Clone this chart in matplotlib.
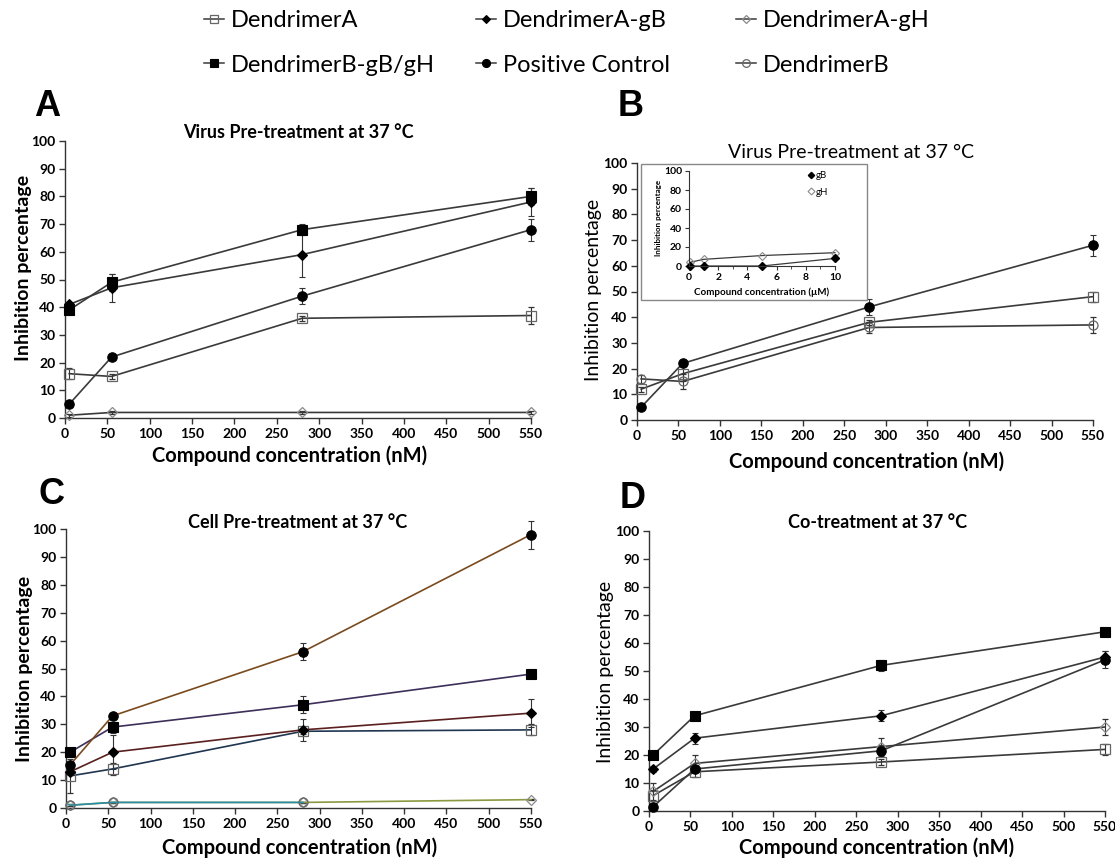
import matplotlib
matplotlib.use('Agg')
import matplotlib.pyplot as plt
from matplotlib.lines import Line2D
from matplotlib.patches import Rectangle
from matplotlib.ticker import MultipleLocator

plt.rcParams['font.family'] = ['Lato', 'DejaVu Sans']

# ---------------- data ----------------
conc_nM = [5, 55, 280, 550]
xticks_nM = [0, 50, 100, 150, 200, 250, 300, 350, 400, 450, 500, 550]
yticks_pct = [0, 10, 20, 30, 40, 50, 60, 70, 80, 90, 100]

# Panel A  (Virus pre-treatment)
a_dendA = [16, 15, 36, 37];        a_dendA_err = [2, 1, 1, 3]
a_dendA_gB = [41, 47, 59, 78];     a_dendA_gB_err = [1, 5, 8, 5]
a_dendA_gH = [1, 2, 2, 2];         a_dendA_gH_err = [0.5, 0.5, 0.5, 0.5]
a_dendB_gBgH = [39, 49, 68, 80];   a_dendB_gBgH_err = [1, 3, 2, 3]
a_pos = [5, 22, 44, 68];           a_pos_err = [1, 1, 3, 4]

# Panel B  (Virus pre-treatment)
b_pos = [5, 22, 44, 68];           b_pos_err = [0.5, 1, 3, 4]
b_dendA = [12, 18, 38, 48];        b_dendA_err = [1, 3, 1, 2]
b_dendB = [16, 15, 36, 37];        b_dendB_err = [1.5, 3, 2, 3]

# Panel B inset
inset_conc_uM = [0.1, 1, 5, 10]
inset_gB = [0, 0, 0, 8]
inset_gH = [4, 7, 11, 14]

# Panel C  (Cell pre-treatment)
c_pos = [15.5, 33, 56, 98];        c_pos_err = [1, 1, 3, 5]
c_dendB_gBgH = [20, 29, 37, 48];   c_dendB_gBgH_err = [1.5, 2, 3, 1.5]
c_dendA_gB = [13, 20, 28, 34];     c_dendA_gB_err = [1, 6, 4, 5]
c_dendA = [11.5, 14, 27.5, 28];    c_dendA_err = [6, 2, 1, 2]
c_dendA_gH = [1, 2, 2, 3];         c_dendA_gH_err = [0.3, 0.3, 0.3, 0.3]
c_dendB = [1, 2, 2];               c_dendB_err = [0.3, 0.3, 0.3]

# Panel D  (Co-treatment)
d_dendB_gBgH = [20, 34, 52, 64];   d_dendB_gBgH_err = [1.5, 1, 2, 1.5]
d_dendA_gB = [15, 26, 34, 55];     d_dendA_gB_err = [1, 2, 2, 2]
d_pos = [1.5, 15, 21.5, 54];       d_pos_err = [1, 1, 2, 3]
d_dendA_gH = [7, 17, 23, 30];      d_dendA_gH_err = [3, 3, 3, 3]
d_dendA = [5.5, 14, 17.5, 22];     d_dendA_err = [2, 2, 1, 2]

legend_names = ['DendrimerA', 'DendrimerA-gB', 'DendrimerA-gH',
                'DendrimerB-gB/gH', 'Positive Control', 'DendrimerB']

# ---------------- styles ----------------
LC = '#3a3a3a'
styles = {
    'DendrimerA':       dict(marker='s', ms=6.5, mfc='none', mec='#666666', mew=0.9),
    'DendrimerA-gB':    dict(marker='D', ms=4.8, mfc='black', mec='black', mew=0.8),
    'DendrimerA-gH':    dict(marker='D', ms=4.8, mfc='none', mec='#8a8a8a', mew=0.9),
    'DendrimerB-gB/gH': dict(marker='s', ms=7.2, mfc='black', mec='black', mew=0.8),
    'Positive Control': dict(marker='o', ms=6.8, mfc='black', mec='black', mew=0.8),
    'DendrimerB':       dict(marker='o', ms=6.5, mfc='none', mec='#666666', mew=0.9),
}

W, H = 1115, 860
fig = plt.figure(figsize=(W / 100, H / 100), dpi=100)


def fx(px):
    return px / W


def fy(py):
    return 1 - py / H


def add_axes(l, t, r, b):
    return fig.add_axes([fx(l), fy(b), fx(r - l), (b - t) / H])


def draw(ax, x, y, err, name, color=LC, ecolor='#333333', z=3):
    st = styles[name]
    ax.errorbar(x, y, yerr=err, fmt='-', color=color, lw=1.2,
                ecolor=ecolor, elinewidth=0.8, capsize=2.2, capthick=0.8,
                clip_on=False, zorder=z, **st)


def style_axes(ax, labelsize=10):
    ax.set_xlim(0, 550)
    ax.set_ylim(0, 100)
    ax.set_xticks(xticks_nM)
    ax.set_yticks(yticks_pct)
    for s in ['top', 'right']:
        ax.spines[s].set_visible(False)
    for s in ['left', 'bottom']:
        ax.spines[s].set_color('#333333')
        ax.spines[s].set_linewidth(1.0)
    ax.tick_params(direction='out', length=4, width=1, color='#333333',
                   labelsize=labelsize, pad=3)
    for lab in ax.get_xticklabels() + ax.get_yticklabels():
        lab.set_fontweight('bold')
    ax.patch.set_alpha(0)


# ---------------- Panel A ----------------
axA = add_axes(65, 141, 531, 418)
style_axes(axA)
draw(axA, conc_nM, a_dendA_gH, a_dendA_gH_err, 'DendrimerA-gH')
draw(axA, conc_nM, a_dendA, a_dendA_err, 'DendrimerA')
draw(axA, conc_nM, a_pos, a_pos_err, 'Positive Control')
draw(axA, conc_nM, a_dendA_gB, a_dendA_gB_err, 'DendrimerA-gB')
draw(axA, conc_nM, a_dendB_gBgH, a_dendB_gBgH_err, 'DendrimerB-gB/gH')

# ---------------- Panel B ----------------
axB = add_axes(637, 163, 1093, 420)
style_axes(axB)
draw(axB, conc_nM, b_dendB, b_dendB_err, 'DendrimerB')
draw(axB, conc_nM, b_dendA, b_dendA_err, 'DendrimerA')
draw(axB, conc_nM, b_pos, b_pos_err, 'Positive Control')

# inset box
fig.patches.append(Rectangle((fx(641), fy(300)), fx(867 - 641), (300 - 164) / H,
                             transform=fig.transFigure, facecolor='white',
                             edgecolor='#888888', lw=1.0, zorder=5))
axI = add_axes(689, 171, 835, 266)
axI.set_zorder(6)
axI.set_xlim(0, 10)
axI.set_ylim(0, 100)
axI.set_xticks([0, 2, 4, 6, 8, 10])
axI.set_yticks([0, 20, 40, 60, 80, 100])
axI.xaxis.set_minor_locator(MultipleLocator(1))
for s in ['top', 'right']:
    axI.spines[s].set_visible(False)
for s in ['left', 'bottom']:
    axI.spines[s].set_color('#333333')
    axI.spines[s].set_linewidth(0.8)
axI.tick_params(which='major', direction='out', length=3, width=0.8,
                labelsize=7.5, pad=2, color='#333333')
axI.tick_params(which='minor', direction='out', length=2, width=0.6, color='#333333')
for lab in axI.get_xticklabels() + axI.get_yticklabels():
    lab.set_fontweight('bold')
axI.patch.set_alpha(0)
axI.plot(inset_conc_uM, inset_gH, '-', color=LC, lw=0.9, marker='D', ms=4.2,
         mfc='none', mec='#8a8a8a', mew=0.8, clip_on=False, label='gH')
axI.plot(inset_conc_uM, inset_gB, '-', color=LC, lw=0.9, marker='D', ms=3.8,
         mfc='black', mec='black', clip_on=False, label='gB')
h, l = axI.get_legend_handles_labels()
ih = [Line2D([0], [0], lw=0, marker='D', ms=3.2, mfc='black', mec='black'),
      Line2D([0], [0], lw=0, marker='D', ms=3.5, mfc='none', mec='#8a8a8a', mew=0.8)]
axI.legend(ih, l[::-1], loc='upper left', bbox_to_anchor=(0.82, 1.0),
           frameon=False, fontsize=7, handlelength=0.5, handletextpad=0.25,
           labelspacing=0.8, borderaxespad=0, borderpad=0)
fig.text(fx(762), fy(292), 'Compound concentration (\u00b5M)', fontsize=7,
         fontweight='bold', ha='center', va='center', zorder=7)
fig.text(fx(658), fy(218), 'Inhibition percentage', fontsize=5.8,
         fontweight='bold', rotation=90, ha='center', va='center', zorder=7)

# ---------------- Panel C ----------------
axC = add_axes(66, 529, 531, 808)
style_axes(axC)
draw(axC, conc_nM, c_dendA_gH, c_dendA_gH_err, 'DendrimerA-gH', color='#8a9a40')
draw(axC, conc_nM[:3], c_dendB, c_dendB_err, 'DendrimerB', color='#2a8ea6')
axC.lines[-1].set_markerfacecolor('#2a8ea6')
axC.lines[-1].set_markeredgecolor('#2a8ea6')
draw(axC, conc_nM, c_dendA, c_dendA_err, 'DendrimerA', color='#1f3550')
draw(axC, conc_nM, c_dendA_gB, c_dendA_gB_err, 'DendrimerA-gB', color='#5a1f1f')
draw(axC, conc_nM, c_dendB_gBgH, c_dendB_gBgH_err, 'DendrimerB-gB/gH', color='#3d2f5a')
draw(axC, conc_nM, c_pos, c_pos_err, 'Positive Control', color='#7a4a1f')

# ---------------- Panel D ----------------
axD = add_axes(649, 531, 1105, 811)
style_axes(axD)
draw(axD, conc_nM, d_dendA, d_dendA_err, 'DendrimerA')
draw(axD, conc_nM, d_dendA_gH, d_dendA_gH_err, 'DendrimerA-gH')
draw(axD, conc_nM, d_pos, d_pos_err, 'Positive Control')
draw(axD, conc_nM, d_dendA_gB, d_dendA_gB_err, 'DendrimerA-gB')
draw(axD, conc_nM, d_dendB_gBgH, d_dendB_gBgH_err, 'DendrimerB-gB/gH')

# ---------------- titles / labels ----------------
fig.text(fx(298), fy(132), 'Virus Pre-treatment at 37 \u00b0C', fontsize=13,
         fontweight='bold', ha='center', va='center')
fig.text(fx(851), fy(153), 'Virus Pre-treatment at 37 \u00b0C', fontsize=14,
         ha='center', va='center')
fig.text(fx(298), fy(522), 'Cell Pre-treatment at 37 \u00b0C', fontsize=13,
         fontweight='bold', ha='center', va='center')
fig.text(fx(878), fy(522), 'Co-treatment at 37 \u00b0C', fontsize=13,
         fontweight='bold', ha='center', va='center')

for (x, y, w) in [(24, 268, 'bold'), (594, 290, 'normal'),
                  (25, 669, 'bold'), (605, 672, 'normal')]:
    fig.text(fx(x), fy(y), 'Inhibition percentage', fontsize=14, fontweight=w,
             rotation=90, ha='center', va='center')

for (x, y) in [(290, 456), (867, 462), (300, 848), (877, 848)]:
    fig.text(fx(x), fy(y), 'Compound concentration (nM)', fontsize=14.5,
             fontweight='bold', ha='center', va='center')

for (x, y, t) in [(47, 107, 'A'), (631, 107, 'B'), (51, 495, 'C'), (633, 498, 'D')]:
    fig.text(fx(x), fy(y), t, fontsize=26, fontweight='bold', ha='center',
             va='center', family=['Liberation Sans', 'DejaVu Sans'])

# ---------------- top legend ----------------
def handle(name):
    st = dict(styles[name])
    st['ms'] = st['ms'] * 0.85
    return Line2D([0], [0], color=LC, lw=1.1, **st)


cols = [(legend_names[0], legend_names[3]),
        (legend_names[1], legend_names[4]),
        (legend_names[2], legend_names[5])]
col_x = [204, 476, 736]
for cx, names in zip(col_x, cols):
    fig.legend([handle(n) for n in names], list(names), loc='upper left',
               bbox_to_anchor=(fx(cx), fy(10)), frameon=False, fontsize=17,
               handlelength=0.85, handletextpad=0.3, labelspacing=1.0,
               borderaxespad=0, borderpad=0)

fig.savefig('out.png', dpi=100)
